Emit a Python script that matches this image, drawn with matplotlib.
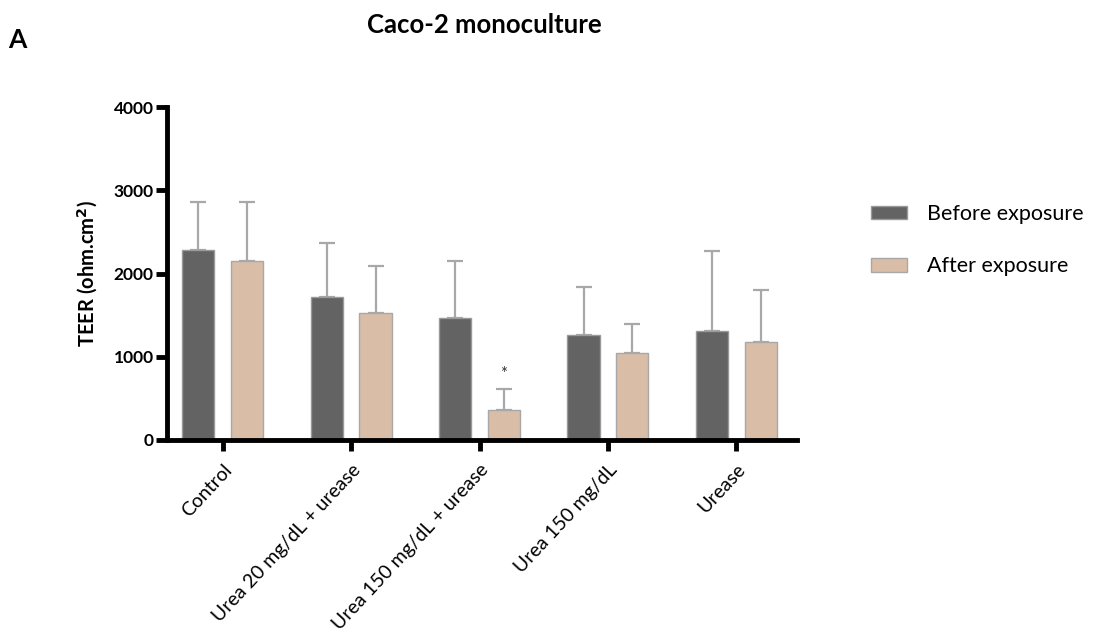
import numpy as np
import matplotlib
matplotlib.use("Agg")
import matplotlib.pyplot as plt

plt.rcParams['font.family'] = ['Lato', 'DejaVu Sans']

# data (TEER, ohm.cm2)
groups = ["Control", "Urea 20 mg/dL + urease", "Urea 150 mg/dL + urease",
          "Urea 150 mg/dL", "Urease"]
before = [2290, 1715, 1465, 1265, 1305]
before_sd = [575, 650, 683, 576, 965]
after = [2150, 1530, 360, 1040, 1180]
after_sd = [714, 561, 258, 356, 622]
series_names = ["Before exposure", "After exposure"]
yticks = [0, 1000, 2000, 3000, 4000]

c_before = "#636363"
c_after = "#dabda7"
c_err = "#a8a8a8"

fig = plt.figure(figsize=(10.96, 6.43), dpi=100)
ax = fig.add_axes([167.5/1096, 1-440/643, (796.7-167.5)/1096, (440-107.3)/643])

x = np.arange(len(groups))
w = 0.25
off = 0.19

ax.bar(x - off, before, w, color=c_before, edgecolor="#9a9a9a", linewidth=1,
       label=series_names[0], zorder=2)
ax.bar(x + off, after, w, color=c_after, edgecolor="#a8a8a8", linewidth=1,
       label=series_names[1], zorder=2)
ax.errorbar(x - off, before, yerr=[np.zeros(len(x)), before_sd], fmt="none",
            ecolor=c_err, elinewidth=1.6, capsize=6, capthick=1.6, zorder=1)
ax.errorbar(x + off, after, yerr=[np.zeros(len(x)), after_sd], fmt="none",
            ecolor=c_err, elinewidth=1.6, capsize=6, capthick=1.6, zorder=1)

# significance mark
ax.text(x[2] + off, after[2] + after_sd[2] + 170, "*", ha="center", va="center",
        fontsize=12, color="#333333")

ax.set_xlim(-0.43, 4.47)
ax.set_ylim(0, 4000)
ax.set_yticks(yticks)
ax.set_yticklabels([str(t) for t in yticks], fontsize=12.5, fontweight="bold")
ax.set_xticks(x)
ax.set_xticklabels(groups, rotation=47, ha="right", rotation_mode="anchor",
                   fontsize=14)
for s in ["top", "right"]:
    ax.spines[s].set_visible(False)
for s in ["left", "bottom"]:
    ax.spines[s].set_linewidth(3.5)
ax.tick_params(axis="both", width=3.5, length=8, pad=2)
ax.tick_params(axis="x", pad=7)

ax.set_ylabel("TEER (ohm.cm$^\\mathbf{2}$)", fontsize=14.5, fontweight="bold",
              labelpad=10)

ax.legend(loc="upper left", bbox_to_anchor=(871/1096, 1-204/643),
          bbox_transform=fig.transFigure, frameon=False, fontsize=15.5,
          handlelength=1.65, handleheight=0.6, handletextpad=0.95,
          labelspacing=1.5, borderpad=0, borderaxespad=0)

fig.text(484/1096, 1-25/643, "Caco-2 monoculture", ha="center", va="center",
         fontsize=18.5, fontweight="bold")
fig.text(8/1096, 1-40/643, "A", ha="left", va="center", fontsize=19,
         fontweight="bold")

fig.savefig("out.png", dpi=100)
